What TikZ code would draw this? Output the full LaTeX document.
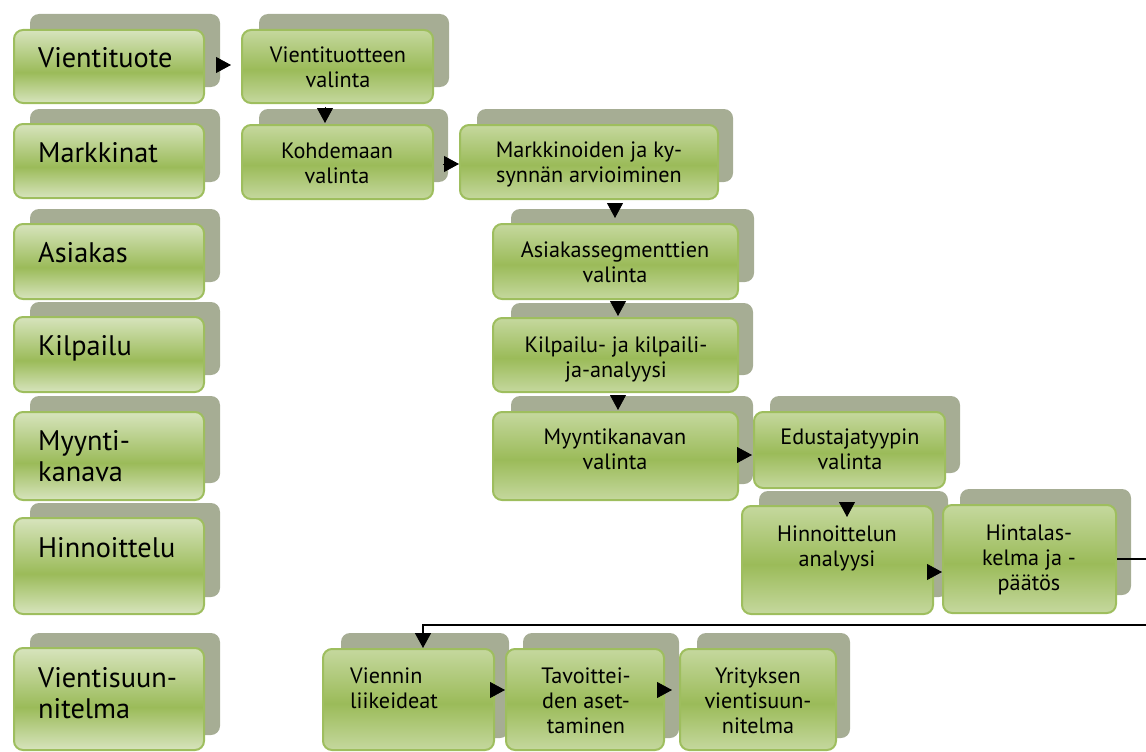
\documentclass[tikz,border=0pt]{standalone}
\usepackage{fontspec}
\setmainfont{PT Sans}
\usetikzlibrary{arrows.meta,calc}

\definecolor{gmid}{RGB}{155,187,89}
\definecolor{glightL}{RGB}{215,228,189}
\definecolor{glightI}{RGB}{197,216,158}
\definecolor{gshadow}{RGB}{166,173,148}
\definecolor{gedge}{RGB}{158,190,94}

% vertical fills: light at the edges, saturated green a little below the middle
\pgfdeclareverticalshading{leftfill}{100bp}{color(0bp)=(glightL); color(25bp)=(glightL); color(46bp)=(gmid); color(75bp)=(glightL); color(100bp)=(glightL)}
\pgfdeclareverticalshading{innerfill}{100bp}{color(0bp)=(glightI); color(25bp)=(glightI); color(48bp)=(gmid); color(75bp)=(glightI); color(100bp)=(glightI)}

\tikzset{
  back/.style={fill=gshadow, rounded corners=9pt, inner sep=0pt},
  frontL/.style={draw=gedge, line width=2pt, shading=leftfill, rounded corners=9pt, inner sep=0pt},
  frontI/.style={draw=gedge, line width=2pt, shading=innerfill, rounded corners=9pt, inner sep=0pt},
  % multi-line labels are placed by the baseline of their last line
  labL/.style={font=\fontsize{28.3}{30.5}\selectfont, align=left, inner sep=0pt, anchor=base west},
  labI/.style={font=\fontsize{22.2}{25}\selectfont, align=center, inner sep=0pt, anchor=base},
  labIl/.style={font=\fontsize{22.2}{25}\selectfont, align=left, inner sep=0pt, anchor=base west},
  tip/.style={line width=0.8pt, -{Triangle[length=15pt,width=16pt]}},
  link/.style={line width=1.6pt, -{Triangle[length=15pt,width=16pt]}}
}

% panel: style, name, left, top, right, bottom
\newcommand\panel[6]{%
  \node[#1, minimum width={(#5-#3)*1pt}, minimum height={(#6-#4)*1pt}] (#2) at ({(#3+#5)/2},{(#4+#6)/2}) {};}

\begin{document}
\begin{tikzpicture}[x=1pt,y=-1pt]
\useasboundingbox (0,0) rectangle (1146,752);

% left column: topics
\panel{back}{sL1}{30}{14}{220}{87}    \panel{frontL}{L1}{14}{30}{204}{103}
\panel{back}{sL2}{30}{109}{220}{182}  \panel{frontL}{L2}{14}{124}{204}{198}
\panel{back}{sL3}{30}{209}{220}{282}  \panel{frontL}{L3}{14}{224}{204}{299}
\panel{back}{sL4}{30}{302}{220}{375}  \panel{frontL}{L4}{14}{317}{204}{392}
\panel{back}{sL5}{30}{396}{220}{483}  \panel{frontL}{L5}{14}{412}{204}{500}
\panel{back}{sL6}{30}{503}{220}{597}  \panel{frontL}{L6}{14}{518}{204}{614}
\panel{back}{sL7}{30}{633}{220}{735}  \panel{frontL}{L7}{14}{648}{204}{750}

\node[labL] (tL1) at (38,67)  {Vientituote};
\node[labL] (tL2) at (38,162) {Markkinat};
\node[labL] (tL3) at (38,262) {Asiakas};
\node[labL] (tL4) at (38,355) {Kilpailu};
\node[labL] (tL5) at (38,481) {Myynti-\\kanava};
\node[labL] (tL6) at (38,557) {Hinnoittelu};
\node[labL] (tL7) at (38,718) {Vientisuun-\\nitelma};

% process steps
\panel{back}{sI1}{259}{14}{449}{87}     \panel{frontI}{I1}{242}{30}{433}{103}
\panel{back}{sI2}{259}{109}{448}{182}   \panel{frontI}{I2}{242}{125}{433}{199}
\panel{back}{sI3}{477}{109}{733}{182}   \panel{frontI}{I3}{460}{125}{718}{199}
\panel{back}{sI4}{511}{209}{754}{282}   \panel{frontI}{I4}{493}{224}{738}{299}
\panel{back}{sI5}{511}{303}{753}{375}   \panel{frontI}{I5}{493}{318}{738}{392}
\panel{back}{sI6}{511}{396}{753}{484}   \panel{frontI}{I6}{493}{412}{738}{500}
\panel{back}{sI7}{770}{396}{960}{473}   \panel{frontI}{I7}{754}{412}{945}{488}
\panel{back}{sI8}{759}{491}{948}{597}   \panel{frontI}{I8}{742}{506}{933}{614}
\panel{back}{sI9}{960}{489}{1131}{595}  \panel{frontI}{I9}{943}{505}{1116}{613}
\panel{back}{sI10}{341}{633}{509}{738}  \panel{frontI}{I10}{323}{649}{494}{750}
\panel{back}{sI11}{523}{633}{679}{738}  \panel{frontI}{I11}{506}{649}{664}{750}
\panel{back}{sI12}{697}{633}{850}{738}  \panel{frontI}{I12}{680}{649}{836}{750}

\node[labI]  (tI1)  at (338,88)  {Vientituotteen\\valinta};
\node[labI]  (tI2)  at (337,183) {Kohdemaan\\valinta};
\node[labI]  (tI3)  at (589,182) {Markkinoiden ja ky-\\synnän arvioiminen};
\node[labI]  (tI4)  at (615,282) {Asiakassegmenttien\\valinta};
\node[labI]  (tI5)  at (616,377) {Kilpailu- ja kilpaili-\\ja-analyysi};
\node[labI]  (tI6)  at (615,469) {Myyntikanavan\\valinta};
\node[labI]  (tI7)  at (850,469) {Edustajatyypin\\valinta};
\node[labI]  (tI8)  at (837,566) {Hinnoittelun\\analyysi};
\node[labI]  (tI9)  at (1029,590) {Hintalas-\\kelma ja -\\päätös};
\node[labIl] (tI10) at (350,708) {Viennin\\liikeideat};
\node[labI]  (tI11) at (586,733) {Tavoittei-\\den aset-\\taminen};
\node[labI]  (tI12) at (758,733) {Yrityksen\\vientisuun-\\nitelma};

% connectors
\draw[tip] ($(L1.east)+(12,-1.5)$) -- ($(I1.west)+(-10,-1.5)$);
\draw[tip] ($(I1.south)+(-12.5,3)$) -- ($(I2.north)+(-12.5,-1)$);
\draw[tip] ($(I2.east)+(9,2)$) -- ($(I3.west)+(0,2)$);
\draw[tip] ($(I3.south)+(26,3)$) -- ($(I4.north)+(-0.5,-5)$);
\draw[tip] ($(I4.south)+(2.5,2)$) -- ($(I5.north)+(2.5,-1)$);
\draw[tip] ($(I5.south)+(2.5,3)$) -- ($(I6.north)+(2.5,-1)$);
\draw[tip] ($(I6.east)+(-1,-1)$) -- ($(I7.west)+(-1,5)$);
\draw[tip] ($(I7.south)+(-2.5,13)$) -- ($(I8.north)+(9.5,12)$);
\draw[tip] ($(I8.east)+(-6,12)$) -- ($(I9.west)+(0,13)$);
\coordinate (turn) at (1160,625);
\draw[link] (I9.east) -| (turn) -| ($(I10.north)+(14.5,0)$);
\draw[tip] ($(I10.east)+(-5,-9.5)$) -- ($(I11.west)+(0,-9.5)$);
\draw[tip] ($(I11.east)+(-7,-9.5)$) -- ($(I12.west)+(-7,-9.5)$);
\end{tikzpicture}
\end{document}
